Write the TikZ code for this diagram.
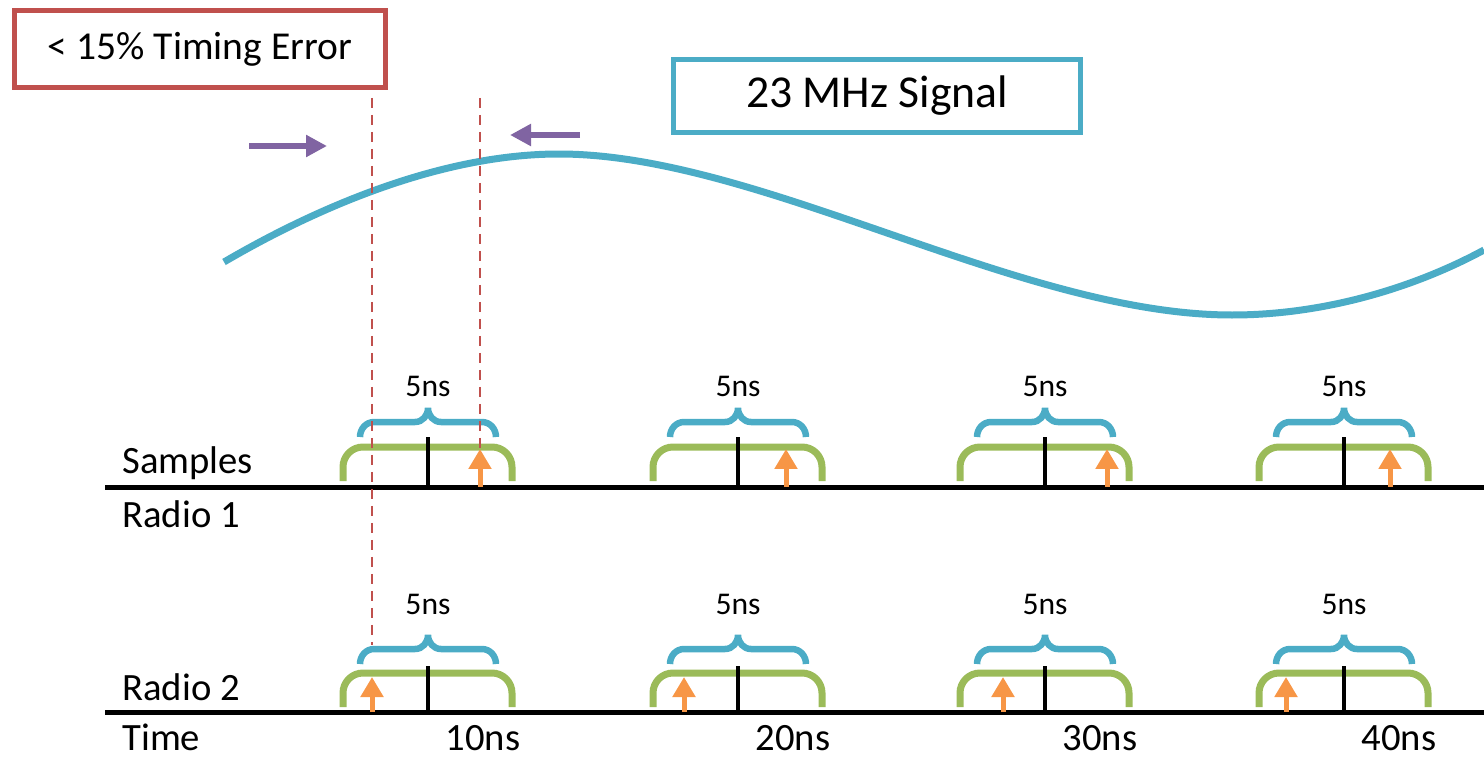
\documentclass[tikz,border=0pt]{standalone}
\usepackage{fontspec}
\setmainfont{Carlito}
\usepackage{xcolor}
\usepackage{tikz}
\usetikzlibrary{arrows.meta}
\definecolor{errRed}{HTML}{C0504D}
\definecolor{sigBlue}{HTML}{4BACC6}
\definecolor{shiftPurple}{HTML}{8064A2}
\definecolor{winGreen}{HTML}{9BBB59}
\definecolor{smpOrange}{HTML}{F79646}

\begin{document}
\begin{tikzpicture}[
    x=0.02cm, y=-0.02cm,
    box/.style={rectangle, draw, line width=0.11cm, inner sep=0pt},
    lbl/.style={inner sep=0pt, anchor=base west, font=\fontsize{22}{26}\selectfont},
    tlbl/.style={inner sep=0pt, anchor=base, font=\fontsize{22}{26}\selectfont},
    nslbl/.style={inner sep=0pt, font=\fontsize{18}{22}\selectfont},
    timeline/.style={line width=0.1cm},
    midtick/.style={line width=0.08cm},
    guide/.style={errRed, line width=0.05cm, dash pattern=on 0.2cm off 0.14cm},
    shiftarr/.style={shiftPurple, line width=0.14cm, -{Triangle[length=0.42cm, width=0.42cm]}},
    smp/.style={smpOrange, line width=0.1cm, -{Triangle[length=0.4cm, width=0.44cm]}},
    win/.style={winGreen, line width=0.14cm, rounded corners=0.4cm},
    span/.style={sigBlue, line width=0.13cm},
    wave/.style={sigBlue, line width=0.14cm},
  ]
  \useasboundingbox (0,0) rectangle (1484,757);

  %% ── Boxes ──
  \node[box, draw=errRed, minimum width=7.42cm, minimum height=1.54cm,
        font=\fontsize{22.5}{27}\selectfont] (err) at (200,49) {< 15\% Timing Error};
  \node[box, draw=sigBlue, line width=0.1cm, minimum width=8.16cm, minimum height=1.48cm,
        font=\fontsize{26}{31}\selectfont] (sig) at (877,96) {23 MHz Signal};

  %% ── Signal ──
  \draw[wave] (224,262) .. controls (330,200) and (450,154) .. (559,154)
    .. controls (760,154) and (1020,315) .. (1232,315)
    .. controls (1320,315) and (1410,290) .. (1484,250);

  %% ── Shift arrows ──
  \draw[shiftarr] (249,146) -- (327,146);
  \draw[shiftarr] (580,135) -- (510,135);

  %% ── Time lines ──
  \draw[timeline] (105,487) -- (1484,487);
  \draw[timeline] (105,712) -- (1484,712);

  \node[lbl] (samples) at (122,473) {Samples};
  \node[lbl] (radio1)  at (122,527) {Radio 1};
  \node[lbl] (radio2)  at (122,700) {Radio 2};
  \node[lbl] (time)    at (122,750) {Time};

  %% ── Sample windows ──
  \foreach \t/\up/\dn/\tl [count=\i] in {428/480/372/10ns, 738/786/684/20ns,
                                         1045/1107/1003/30ns, 1344/1390/1286/40ns}{
    % Radio 1
    \draw[win] (\t-85,481) |- (\t,447) -| (\t+84,481);
    \draw[midtick] (\t,487) -- (\t,437);
    \draw[span] (\t-68,437) to[out=90,in=180] (\t-54,422) -- (\t-13,422)
      to[out=0,in=-90] (\t,408) to[out=-90,in=180] (\t+13,422) -- (\t+54,422)
      to[out=0,in=90] (\t+68,437);
    \node[nslbl] (nsA\i) at (\t,386) {5ns};
    \draw[smp] (\up,487) -- (\up,449);
    % Radio 2
    \draw[win] (\t-85,707) |- (\t,673) -| (\t+84,707);
    \draw[midtick] (\t,712) -- (\t,666);
    \draw[span] (\t-68,664) to[out=90,in=180] (\t-54,649) -- (\t-13,649)
      to[out=0,in=-90] (\t,635) to[out=-90,in=180] (\t+13,649) -- (\t+54,649)
      to[out=0,in=90] (\t+68,664);
    \node[nslbl] (nsB\i) at (\t,604) {5ns};
    \draw[smp] (\dn,712) -- (\dn,677);
    % time label
    \node[tlbl] (tl\i) at (\t+55,750) {\tl};
  }

  %% ── Timing error guides ──
  \draw[guide] (372,98) -- (372,645);
  \draw[guide] (480,98) -- (480,452);

\end{tikzpicture}
\end{document}
